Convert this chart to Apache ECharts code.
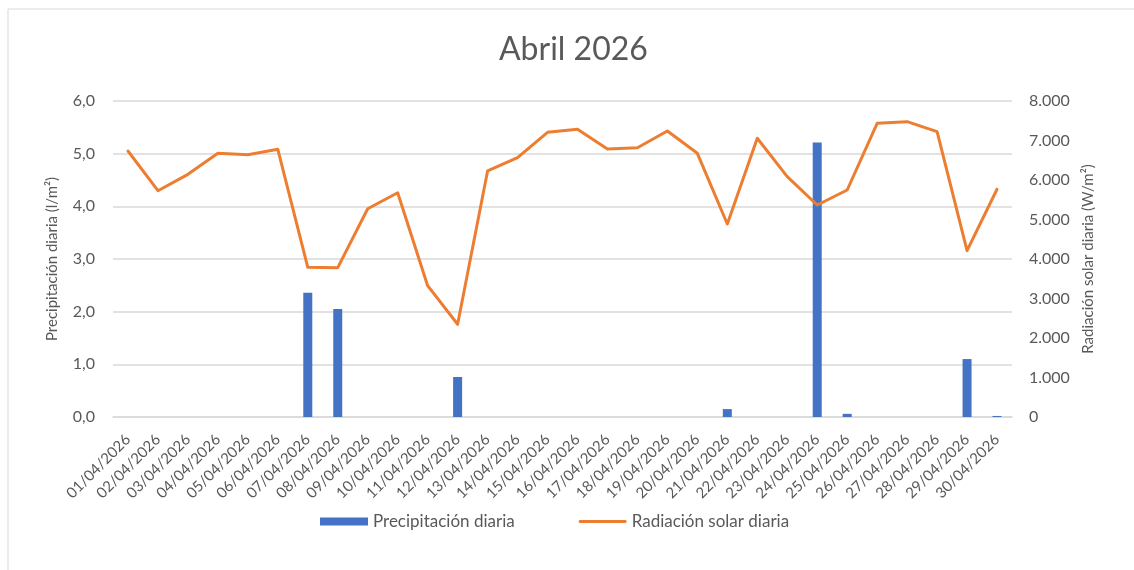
<!DOCTYPE html>
<html>
<head>
<meta charset="utf-8">
<script src="https://cdn.jsdelivr.net/npm/echarts@6/dist/echarts.min.js"></script>
<style>html,body{margin:0;padding:0;background:#fff}#c{width:1134px;height:570px}</style>
</head>
<body>
<div id="c"></div>
<script>
const categories = ['01/04/2026','02/04/2026','03/04/2026','04/04/2026','05/04/2026','06/04/2026','07/04/2026','08/04/2026','09/04/2026','10/04/2026','11/04/2026','12/04/2026','13/04/2026','14/04/2026','15/04/2026','16/04/2026','17/04/2026','18/04/2026','19/04/2026','20/04/2026','21/04/2026','22/04/2026','23/04/2026','24/04/2026','25/04/2026','26/04/2026','27/04/2026','28/04/2026','29/04/2026','30/04/2026'];
const precipitacion = [0,0,0,0,0,0,2.36,2.05,0,0,0,0.76,0,0,0,0,0,0,0,0,0.15,0,0,5.21,0.06,0,0,0,1.10,0.02];
const radiacion = [6734,5729,6144,6676,6641,6777,3790,3780,5273,5678,3324,2347,6228,6565,7207,7284,6785,6818,7241,6676,4886,7056,6084,5367,5747,7435,7476,7223,4210,5765];
const leftTicks = {min:0, max:6, interval:1};
const rightTicks = {min:0, max:8000, interval:1000};

const txt = '#595959';
const font = 'Lato';
const chart = echarts.init(document.getElementById('c'));
chart.setOption({
  animation:false,
  textStyle:{fontFamily:font},
  graphic:[{type:'rect',shape:{x:8,y:9,width:1140,height:580},style:{fill:'none',stroke:'#d9d9d9',lineWidth:1},silent:true}],
  title:{text:'Abril 2026',left:494,top:29,textStyle:{fontFamily:font,fontSize:32,fontWeight:'normal',color:txt}},
  grid:{left:113,right:122,top:101,bottom:153},
  legend:{top:513,left:320,padding:0,itemGap:64,itemWidth:48,itemHeight:8,
    textStyle:{fontFamily:font,fontSize:17,color:txt},
    data:[{name:'Precipitación diaria',icon:'rect'},
          {name:'Radiación solar diaria',icon:'path://M1.5,0L48.5,0A1.5,1.5,0,0,1,48.5,3L1.5,3A1.5,1.5,0,0,1,1.5,0Z'}]},
  xAxis:{type:'category',data:categories,
    axisLine:{lineStyle:{color:'#d9d9d9',width:1.5}},axisTick:{show:false},
    axisLabel:{rotate:45,interval:0,color:txt,fontSize:15,fontFamily:font,margin:20}},
  yAxis:[
    {type:'value',min:leftTicks.min,max:leftTicks.max,interval:leftTicks.interval,
     name:'Precipitación diaria (l/m²)',nameLocation:'middle',nameGap:53,nameRotate:90,
     nameTextStyle:{color:txt,fontSize:15,fontFamily:font},
     axisLabel:{color:txt,fontSize:16,fontFamily:font,margin:18,formatter:v=>v.toFixed(1).replace('.',',')},
     splitLine:{lineStyle:{color:'#d9d9d9',width:1.5}},axisLine:{show:false},axisTick:{show:false}},
    {type:'value',min:rightTicks.min,max:rightTicks.max,interval:rightTicks.interval,position:'right',
     name:'Radiación solar diaria (W/m²)',nameLocation:'middle',nameGap:65,nameRotate:90,
     nameTextStyle:{color:txt,fontSize:15,fontFamily:font},
     axisLabel:{color:txt,fontSize:16,fontFamily:font,margin:17,formatter:v=>v.toString().replace(/\B(?=(\d{3})+(?!\d))/g,'.')},
     splitLine:{show:false},axisLine:{show:false},axisTick:{show:false}}
  ],
  series:[
    {name:'Precipitación diaria',type:'bar',yAxisIndex:0,data:precipitacion,barWidth:9,itemStyle:{color:'#4472C4'}},
    {name:'Radiación solar diaria',type:'line',yAxisIndex:1,data:radiacion,symbol:'none',
     lineStyle:{color:'#ED7D31',width:3,cap:'round',join:'round'},itemStyle:{color:'#ED7D31'}}
  ]
});
</script>
</body>
</html>
